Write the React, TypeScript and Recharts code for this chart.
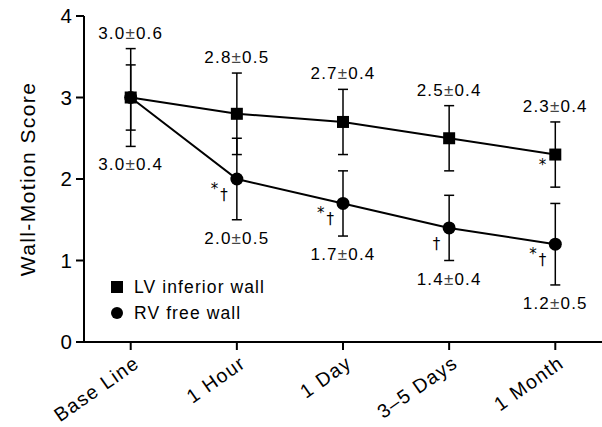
import React from 'react';
import { ComposedChart, Line, Scatter, XAxis, YAxis, ErrorBar, LabelList, Legend } from 'recharts';

const categories = ['Base Line', '1 Hour', '1 Day', '3–5 Days', '1 Month'];
const lvMean = [3.0, 2.8, 2.7, 2.5, 2.3];
const lvSd = [0.6, 0.5, 0.4, 0.4, 0.4];
const rvMean = [3.0, 2.0, 1.7, 1.4, 1.2];
const rvSd = [0.4, 0.5, 0.4, 0.4, 0.5];
const lvMarks = ['', '', '', '', '*'];
const rvMarks = ['', '*†', '*†', '†', '*†'];
const yTicks = [0, 1, 2, 3, 4];
const xTicks = [0, 1, 2, 3, 4];

const FONT = "'Liberation Sans', Arial, Helvetica, sans-serif";

const rows = categories.map((c, i) => ({
  x: i,
  lv: lvMean[i],
  rv: rvMean[i],
  lvErr: lvSd[i],
  rvErr: rvSd[i],
  lvMark: lvMarks[i],
  rvMark: rvMarks[i],
}));

const fmt = (m: number, s: number) => `${m.toFixed(1)}±${s.toFixed(1)}`;

// labels sit above the highest cap / below the lowest cap
const topLabels = categories.map((c, i) => ({
  x: i,
  y: Math.max(lvMean[i] + lvSd[i], rvMean[i] + rvSd[i]),
  text: fmt(lvMean[i], lvSd[i]),
}));
const bottomLabels = categories.map((c, i) => ({
  x: i,
  y: Math.min(lvMean[i] - lvSd[i], rvMean[i] - rvSd[i]),
  text: fmt(rvMean[i], rvSd[i]),
}));

const SquareDot = (props: any) => {
  const { cx, cy } = props;
  if (cx == null || cy == null) return null;
  return <rect x={cx - 6} y={cy - 6} width={12} height={12} fill="#000" />;
};

const CircleDot = (props: any) => {
  const { cx, cy } = props;
  if (cx == null || cy == null) return null;
  return <circle cx={cx} cy={cy} r={6.5} fill="#000" />;
};

const renderValueText = (text: string) => {
  const [a, b] = text.split('±');
  return (
    <>
      <tspan>{a}</tspan>
      <tspan fill="#444">±</tspan>
      <tspan>{b}</tspan>
    </>
  );
};

const TopLabel = (props: any) => {
  const { cx, cy, payload } = props;
  return (
    <text x={cx} y={cy - 10} textAnchor="middle" fontFamily={FONT} fontSize={17} letterSpacing={1.2} fill="#000">
      {renderValueText(payload.text)}
    </text>
  );
};

const BottomLabel = (props: any) => {
  const { cx, cy, payload } = props;
  return (
    <text x={cx} y={cy + 24} textAnchor="middle" fontFamily={FONT} fontSize={17} letterSpacing={1.2} fill="#000">
      {renderValueText(payload.text)}
    </text>
  );
};

// significance marks (* vs baseline, † vs LV)
const MarkLabel = (props: any) => {
  const { x, y, value } = props;
  if (!value) return null;
  const chars = String(value).split('');
  return (
    <text
      x={x - 7}
      y={y + 21}
      textAnchor="end"
      fontFamily="'DejaVu Sans', sans-serif"
      fontSize={15}
      letterSpacing={2}
      fill="#000"
      style={{ fill: '#000' }}
    >
      {chars.map((ch, k) =>
        ch === '*' ? (
          <tspan key={k} dy={-6} fill="#000">*</tspan>
        ) : (
          <tspan key={k} dy={chars[k - 1] === '*' ? 6 : 0} fill="#000">{ch}</tspan>
        )
      )}
    </text>
  );
};

const XTick = (props: any) => {
  const { x, y, payload } = props;
  const px = x + 10;
  const py = y + 14;
  return (
    <text
      x={px}
      y={py}
      transform={`rotate(-35 ${px} ${py})`}
      textAnchor="end"
      fontFamily={FONT}
      fontSize={19.5}
      letterSpacing={1.3}
      fill="#000"
    >
      {categories[payload.value]}
    </text>
  );
};

const renderLegend = () => (
  <div style={{ fontFamily: FONT, fontSize: 17.5, letterSpacing: 1.1, color: '#000', lineHeight: '26px' }}>
    <div style={{ display: 'flex', alignItems: 'center' }}>
      <span style={{ display: 'inline-block', width: 12, height: 12, background: '#000', marginRight: 11 }} />
      LV inferior wall
    </div>
    <div style={{ display: 'flex', alignItems: 'center' }}>
      <span style={{ display: 'inline-block', width: 12, height: 12, borderRadius: 6, background: '#000', marginRight: 11 }} />
      RV free wall
    </div>
  </div>
);

export default function App() {
  return (
    <div style={{ position: 'absolute', left: 0, top: 0, background: '#fff' }}>
      <ComposedChart width={602} height={427} data={rows} margin={{ top: 16, right: 0, bottom: 0, left: 0 }}>
        <XAxis
          type="number"
          dataKey="x"
          domain={[-0.44, 4.44]}
          ticks={xTicks}
          interval={0}
          height={85}
          tickSize={8}
          axisLine={{ stroke: '#000', strokeWidth: 2 }}
          tickLine={{ stroke: '#000', strokeWidth: 2 }}
          tick={<XTick />}
        />
        <YAxis
          type="number"
          domain={[0, 4]}
          ticks={yTicks}
          width={84}
          tickSize={8}
          tickMargin={4}
          axisLine={{ stroke: '#000', strokeWidth: 2 }}
          tickLine={{ stroke: '#000', strokeWidth: 2 }}
          tick={{ fill: '#000', fontSize: 20.5, fontFamily: FONT }}
          label={{
            content: (p: any) => {
              const vb = p.viewBox || { x: 0, y: 16, height: 326 };
              const cx = vb.x + 27;
              const cy = vb.y + vb.height / 2;
              return (
                <text
                  x={cx}
                  y={cy}
                  transform={`rotate(-90 ${cx} ${cy})`}
                  textAnchor="middle"
                  dominantBaseline="central"
                  fontFamily={FONT}
                  fontSize={21}
                  letterSpacing={1.4}
                  fill="#000"
                >
                  Wall-Motion Score
                </text>
              );
            },
          }}
        />
        <Legend
          layout="vertical"
          align="center"
          verticalAlign="middle"
          content={renderLegend}
          wrapperStyle={{ left: 111, top: 274, width: 220 }}
        />
        <Line
          dataKey="lv"
          type="linear"
          stroke="#000"
          strokeWidth={2}
          dot={<SquareDot />}
          activeDot={false}
          isAnimationActive={false}
        >
          <ErrorBar dataKey="lvErr" width={5} stroke="#000" strokeWidth={1.5} direction="y" />
          <LabelList dataKey="lvMark" content={<MarkLabel />} />
        </Line>
        <Line
          dataKey="rv"
          type="linear"
          stroke="#000"
          strokeWidth={2}
          dot={<CircleDot />}
          activeDot={false}
          isAnimationActive={false}
        >
          <ErrorBar dataKey="rvErr" width={5} stroke="#000" strokeWidth={1.5} direction="y" />
          <LabelList dataKey="rvMark" content={<MarkLabel />} />
        </Line>
        <Scatter data={topLabels} dataKey="y" shape={<TopLabel />} isAnimationActive={false} />
        <Scatter data={bottomLabels} dataKey="y" shape={<BottomLabel />} isAnimationActive={false} />
      </ComposedChart>
    </div>
  );
}
